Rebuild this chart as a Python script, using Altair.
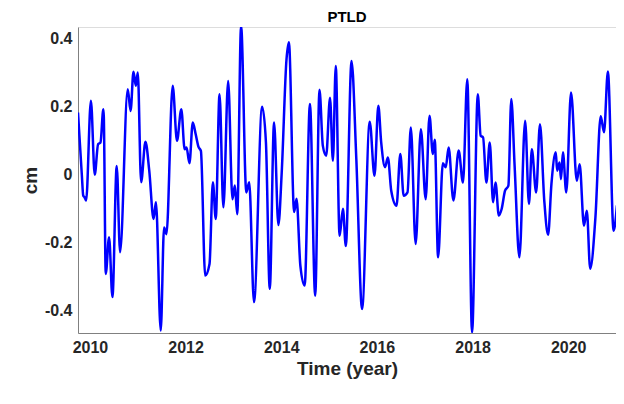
import altair as alt
import pandas as pd

# time (decimal year) and PTLD (cm)
years = [2009.75, 2009.83, 2009.86, 2009.89, 2009.92, 2010.02, 2010.10, 2010.17, 2010.22, 2010.28,
         2010.29, 2010.33, 2010.40, 2010.47, 2010.56, 2010.63, 2010.79, 2010.85, 2010.91, 2010.96,
         2011.00, 2011.07, 2011.16, 2011.24, 2011.33, 2011.38, 2011.48, 2011.55, 2011.60, 2011.73,
         2011.82, 2011.91, 2011.98, 2012.02, 2012.08, 2012.15, 2012.21, 2012.27, 2012.32, 2012.41,
         2012.50, 2012.57, 2012.63, 2012.71, 2012.79, 2012.89, 2012.98, 2013.03, 2013.08, 2013.16,
         2013.27, 2013.33, 2013.43, 2013.60, 2013.68, 2013.76, 2013.85, 2013.94, 2014.01, 2014.11,
         2014.16, 2014.27, 2014.32, 2014.40, 2014.49, 2014.60, 2014.71, 2014.80, 2014.87, 2014.94,
         2015.02, 2015.08, 2015.14, 2015.22, 2015.29, 2015.35, 2015.47, 2015.57, 2015.69, 2015.85,
         2015.95, 2016.03, 2016.09, 2016.17, 2016.23, 2016.30, 2016.41, 2016.49, 2016.56, 2016.64,
         2016.71, 2016.81, 2016.92, 2017.02, 2017.10, 2017.17, 2017.21, 2017.28, 2017.38, 2017.44,
         2017.50, 2017.60, 2017.71, 2017.80, 2017.89, 2017.99, 2018.11, 2018.17, 2018.22, 2018.29,
         2018.36, 2018.43, 2018.48, 2018.55, 2018.61, 2018.68, 2018.75, 2018.81, 2018.88, 2018.98,
         2019.10, 2019.18, 2019.24, 2019.33, 2019.41, 2019.50, 2019.58, 2019.65, 2019.74, 2019.77,
         2019.82, 2019.85, 2019.89, 2019.96, 2020.06, 2020.18, 2020.24, 2020.33, 2020.39, 2020.46,
         2020.57, 2020.68, 2020.75, 2020.83, 2020.95, 2021.02]
ptld = [0.183, 0.0, -0.062, -0.067, -0.076, 0.218, 0.0, 0.09, 0.095, 0.193,
        0.17, -0.292, -0.184, -0.36, 0.026, -0.228, 0.252, 0.188, 0.303, 0.262,
        0.301, -0.022, 0.097, 0.012, -0.13, -0.081, -0.459, -0.155, -0.175, 0.262,
        0.1, 0.193, 0.075, 0.08, 0.034, 0.154, 0.12, 0.082, 0.07, -0.297,
        -0.263, -0.022, -0.13, 0.237, -0.096, 0.276, -0.072, -0.032, -0.116, 0.438,
        -0.052, -0.022, -0.375, 0.2, 0.095, -0.336, 0.154, -0.148, 0.007, 0.34,
        0.39, -0.11, -0.071, -0.268, -0.326, 0.208, -0.356, 0.25, 0.085, 0.056,
        0.227, 0.041, 0.32, -0.18, -0.1, -0.21, 0.335, 0.046, -0.395, 0.156,
        -0.003, 0.203, 0.095, 0.022, 0.051, -0.047, -0.091, 0.061, -0.062, -0.052,
        0.139, -0.204, 0.134, -0.072, 0.174, 0.061, 0.103, -0.243, 0.034, 0.022,
        0.08, -0.076, 0.071, -0.023, 0.281, -0.464, 0.237, 0.115, 0.11, -0.023,
        0.095, -0.081, -0.023, -0.12, -0.1, -0.047, -0.032, 0.223, 0.026, -0.243,
        0.159, -0.086, 0.075, -0.052, 0.149, -0.076, -0.177, -0.027, 0.066, 0.012,
        0.036, -0.013, 0.066, -0.052, 0.242, -0.018, 0.031, -0.15, -0.106, -0.277,
        -0.125, 0.172, 0.125, 0.304, -0.165, -0.09]

df = pd.DataFrame({"t": years, "v": ptld})

font = "Liberation Sans"

chart = alt.Chart(df).mark_line(color="#0000FF", strokeWidth=2.5, interpolate="monotone", clip=True).encode(
    alt.X("t:Q", scale=alt.Scale(domain=[2009.75, 2021.0], nice=False, zero=False),
          axis=alt.Axis(values=[2010, 2012, 2014, 2016, 2018, 2020], format="d", grid=False, ticks=False,
                        labelFontSize=16, labelFontWeight="bold", labelColor="#262626", labelPadding=6,
                        title="Time (year)", titleFontSize=19, titleFontWeight="bold", titleColor="#262626",
                        domainColor="#808080")),
    alt.Y("v:Q", scale=alt.Scale(domain=[-0.466, 0.435], nice=False, zero=False),
          axis=alt.Axis(values=[-0.4, -0.2, 0, 0.2, 0.4], grid=False, ticks=False,
                        labelExpr="datum.value == 0 ? '0' : replace(format(datum.value, '.1f'), '\u2212', '-')",
                        labelFontSize=16, labelFontWeight="bold", labelColor="#262626", labelPadding=6,
                        title="cm", titleFontSize=19, titleFontWeight="bold", titleColor="#262626",
                        domainColor="#808080")),
).properties(
    width=538, height=306,
    title=alt.TitleParams("PTLD", fontSize=15, fontWeight="bold", font=font, color="black", offset=2),
    autosize="none",
    padding={"left": 70, "top": 19, "right": 0, "bottom": 70},
).configure_view(stroke="#808080", strokeWidth=1).configure(font=font)

chart.save("out.html", embed_options={"renderer": "svg", "actions": False})
